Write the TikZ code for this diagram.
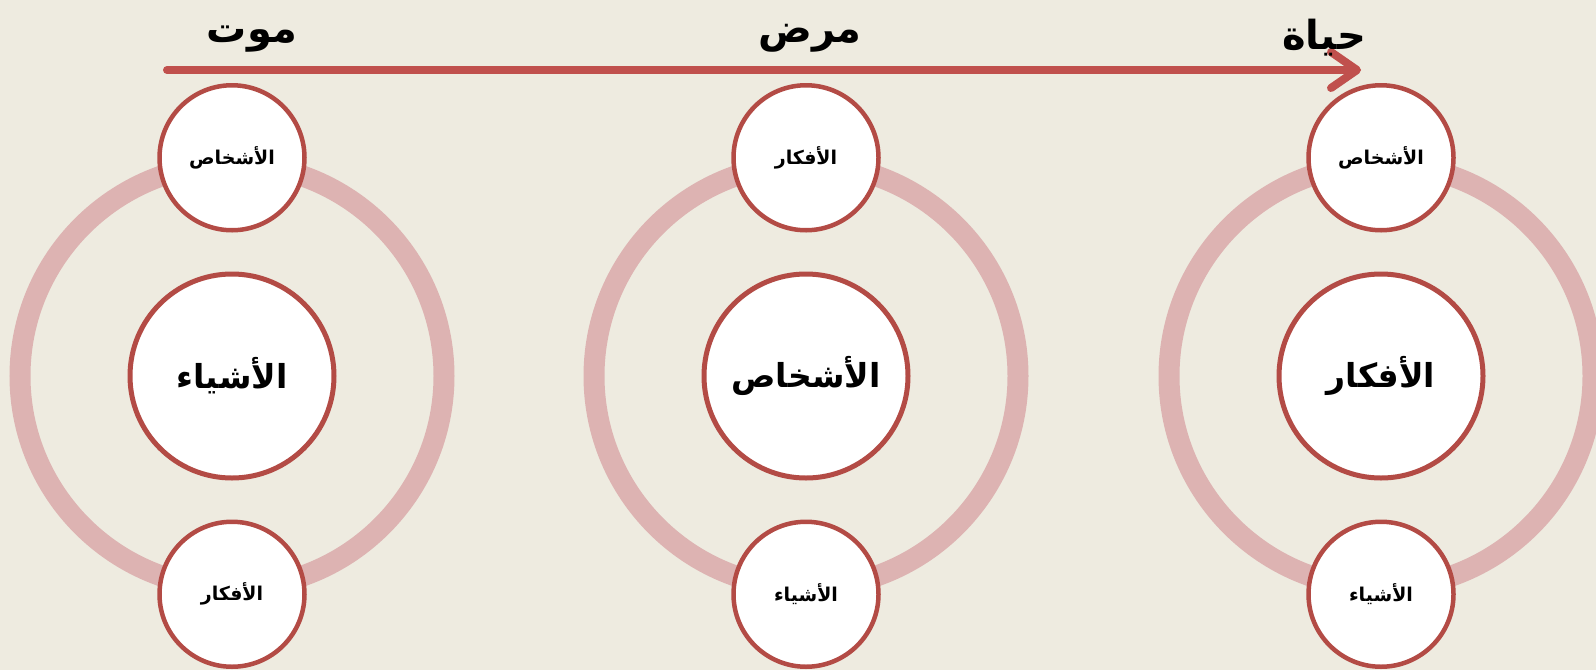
\documentclass[tikz,border=0pt]{standalone}
\usepackage{fontspec}
\usepackage{tikz}
\usetikzlibrary{arrows.meta,positioning}
\newfontfamily\arabicfont[Script=Arabic]{DejaVu Sans}
\TeXXeTstate=1
\definecolor{paper}{HTML}{EEEBE0}
\definecolor{ringpink}{HTML}{DDB3B2}
\definecolor{brick}{HTML}{B34B45}
\definecolor{arrowred}{HTML}{C0504D}
\newcommand{\artext}[1]{\arabicfont\bfseries\beginR #1\endR}

\begin{document}
\begin{tikzpicture}[
  x=1pt,y=-1pt,
  every node/.style={align=center,text=black},
  ring/.style={draw=ringpink,line width=21pt},
  big/.style={circle,draw=brick,line width=5pt,fill=white,minimum size=204pt,inner sep=0pt,font=\fontsize{33}{37}\selectfont},
  small/.style={circle,draw=brick,line width=4.5pt,fill=white,minimum size=145pt,inner sep=0pt,font=\fontsize{19}{23}\selectfont},
  stage/.style={anchor=base,font=\fontsize{40}{46}\selectfont},
  arr/.style={-{Straight Barb[length=26pt,width=36pt,round]},line width=8pt,color=arrowred,line cap=round,
    preaction={draw=black,opacity=.18,transform canvas={shift={(2pt,-3pt)}}}}
]
\fill[paper] (0,0) rectangle (1596,670);
\useasboundingbox (0,0) rectangle (1596,670);
% time line
\coordinate (tail) at (167,70);
\coordinate (head) at (1361,70);
\draw[arr] (tail) -- (head);
\node[stage] (death) at (252,42) {\artext{موت}};
\node[stage] (illness) at (810,42) {\artext{مرض}};
\node[stage] (life) at (1324,49) {\artext{حياة}};
% centres
\node[big] (bigL) at (232,376) {\artext{الأشياء}};
\node[big] (bigM) at (806,376) {\artext{الأشخاص}};
\node[big] (bigR) at (1381,376) {\artext{الأفكار}};
\draw[ring] (bigL) circle[radius=212];
\draw[ring] (bigM) circle[radius=212];
\draw[ring] (bigR) circle[radius=212];
% satellites
\node[small,above=39pt of bigL] (topL) {\artext{الأشخاص}};
\node[small,below=39pt of bigL] (botL) {\artext{الأفكار}};
\node[small,above=39pt of bigM] (topM) {\artext{الأفكار}};
\node[small,below=39pt of bigM] (botM) {\artext{الأشياء}};
\node[small,above=39pt of bigR] (topR) {\artext{الأشخاص}};
\node[small,below=39pt of bigR] (botR) {\artext{الأشياء}};
\end{tikzpicture}
\end{document}
